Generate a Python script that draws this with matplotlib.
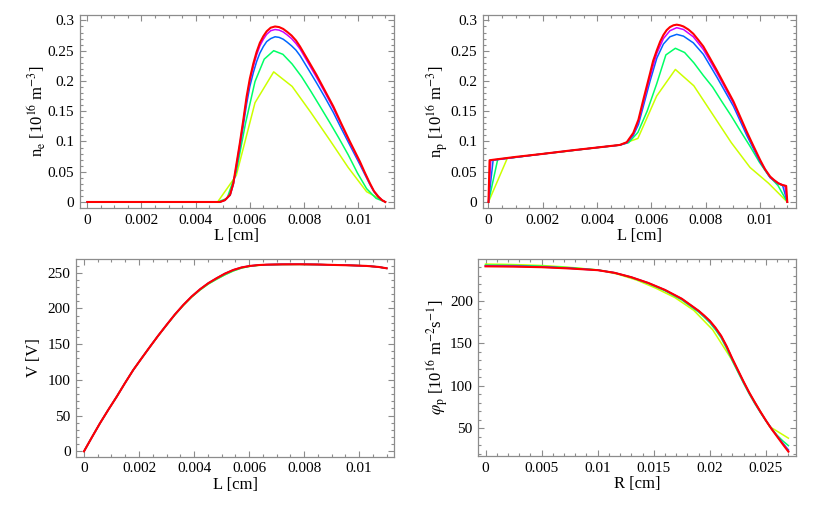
import matplotlib
matplotlib.use('Agg')
import matplotlib.pyplot as plt
from matplotlib.ticker import MultipleLocator, AutoMinorLocator, FuncFormatter

plt.rcParams['font.family'] = ['Liberation Serif', 'DejaVu Serif']
plt.rcParams['mathtext.fontset'] = 'stix'

# colours: coarse -> fine grid
colors = ['#ccff00', '#00ff66', '#0066ff', '#cc00ff', '#ff0000']
widths = [1.1, 1.1, 1.1, 1.1, 1.5]

# ---- n_e(L) ----
ne_x_yellow = [0, 0.00413, 0.00481, 0.0055, 0.00619, 0.00688, 0.00756, 0.00825, 0.00894, 0.00963, 0.01031, 0.011]
ne_yellow = [0, 0, 0, 0.044, 0.164, 0.215, 0.191, 0.148, 0.103, 0.057, 0.017, 0]
ne_x_green = [0, 0.00481, 0.00516, 0.0055, 0.00584, 0.00619, 0.00653, 0.00688, 0.00722, 0.00756, 0.00791,
              0.00825, 0.00859, 0.00894, 0.00928, 0.00963, 0.00997, 0.01031, 0.01066, 0.011]
ne_green = [0, 0, 0.006, 0.05, 0.13, 0.199, 0.236, 0.250, 0.244, 0.228, 0.207, 0.183, 0.158, 0.132,
            0.106, 0.078, 0.048, 0.022, 0.006, 0]
ne_x_fine = [0, 0.0049, 0.00508, 0.00527, 0.00539, 0.00551, 0.00563, 0.00576, 0.00588, 0.006, 0.00613,
             0.00625, 0.00637, 0.0065, 0.00662, 0.00677, 0.00693, 0.00708, 0.00723, 0.00738, 0.00754,
             0.0077, 0.00785, 0.00815, 0.00846, 0.00877, 0.00908, 0.00938, 0.00969, 0.01006, 0.01025,
             0.01043, 0.01058, 0.01074, 0.01088, 0.011]
ne_blue = [0, 0, 0.003, 0.011, 0.029, 0.059, 0.090, 0.127, 0.162, 0.191, 0.214, 0.232, 0.246, 0.257,
           0.265, 0.270, 0.273, 0.272, 0.269, 0.264, 0.258, 0.251, 0.242, 0.220, 0.197, 0.173, 0.148,
           0.121, 0.094, 0.062, 0.045, 0.029, 0.017, 0.008, 0.003, 0]
ne_magenta = [0, 0, 0.003, 0.012, 0.030, 0.062, 0.095, 0.133, 0.170, 0.200, 0.224, 0.243, 0.258, 0.269,
              0.277, 0.283, 0.285, 0.284, 0.281, 0.276, 0.270, 0.262, 0.253, 0.230, 0.206, 0.181, 0.155,
              0.127, 0.098, 0.065, 0.047, 0.030, 0.018, 0.009, 0.003, 0]
ne_red = [0, 0, 0.003, 0.012, 0.031, 0.064, 0.097, 0.136, 0.174, 0.204, 0.229, 0.248, 0.263, 0.274,
          0.282, 0.288, 0.290, 0.289, 0.286, 0.281, 0.275, 0.267, 0.257, 0.234, 0.210, 0.184, 0.158,
          0.129, 0.100, 0.067, 0.048, 0.031, 0.018, 0.009, 0.003, 0]

# ---- n_p(L) ----
np_x_yellow = [0, 0.00069, 0.00138, 0.00206, 0.00275, 0.00344, 0.00413, 0.00481, 0.0055, 0.00619,
               0.00688, 0.00756, 0.00825, 0.00894, 0.00963, 0.01031, 0.011]
np_yellow = [0, 0.072, 0.076, 0.080, 0.083, 0.087, 0.0905, 0.094, 0.105, 0.175, 0.219, 0.192, 0.145,
             0.098, 0.057, 0.031, 0]
np_x_green = [0, 0.00034, 0.002, 0.00413, 0.00481, 0.00516, 0.0055, 0.00584, 0.00619, 0.00653, 0.00688,
              0.00722, 0.00756, 0.00791, 0.00825, 0.00859, 0.00894, 0.00928, 0.00963, 0.00997, 0.01031,
              0.01066, 0.011]
np_green = [0, 0.0705, 0.0795, 0.0905, 0.094, 0.098, 0.115, 0.150, 0.195, 0.243, 0.254, 0.247, 0.230,
            0.209, 0.190, 0.166, 0.142, 0.117, 0.092, 0.066, 0.044, 0.027, 0]
np_x_blue = [0, 0.00017, 0.002, 0.0041, 0.00484, 0.00509, 0.00533, 0.00552, 0.0057, 0.00595, 0.0062,
             0.00644, 0.00668, 0.00693, 0.00718, 0.00754, 0.00791, 0.0084, 0.00902, 0.00951, 0.01,
             0.01037, 0.01067, 0.01083, 0.011]
np_blue = [0, 0.069, 0.0795, 0.0905, 0.094, 0.0975, 0.110, 0.128, 0.158, 0.200, 0.238, 0.261, 0.273,
           0.277, 0.274, 0.263, 0.244, 0.207, 0.158, 0.110, 0.066, 0.040, 0.030, 0.027, 0]
np_x_magenta = [0, 0.000086, 0.002, 0.0041, 0.00484, 0.00509, 0.00533, 0.00552, 0.0057, 0.00595, 0.0062,
                0.00644, 0.00668, 0.00693, 0.00718, 0.00754, 0.00791, 0.0084, 0.00902, 0.00951, 0.01,
                0.01037, 0.01067, 0.01091, 0.011]
np_magenta = [0, 0.069, 0.0795, 0.0905, 0.0942, 0.0982, 0.112, 0.133, 0.164, 0.207, 0.246, 0.270, 0.283,
              0.288, 0.285, 0.273, 0.252, 0.214, 0.163, 0.114, 0.068, 0.041, 0.031, 0.027, 0]
np_x_red = [0, 0.00004, 0.001, 0.002, 0.003, 0.0041, 0.00484, 0.00509, 0.00533, 0.00552, 0.0057, 0.00595,
            0.00606, 0.0062, 0.00632, 0.00644, 0.00656, 0.00668, 0.00681, 0.00693, 0.00705, 0.00718,
            0.00736, 0.00754, 0.00772, 0.00791, 0.00815, 0.0084, 0.00871, 0.00902, 0.00951, 0.00976,
            0.01, 0.01018, 0.01037, 0.01052, 0.01067, 0.01082, 0.01096, 0.011]
np_red = [0, 0.069, 0.0745, 0.0795, 0.085, 0.0905, 0.0943, 0.0988, 0.114, 0.136, 0.169, 0.213, 0.233,
          0.251, 0.265, 0.276, 0.284, 0.289, 0.292, 0.293, 0.292, 0.290, 0.285, 0.278, 0.268, 0.257,
          0.238, 0.218, 0.192, 0.166, 0.116, 0.092, 0.0695, 0.054, 0.042, 0.036, 0.031, 0.028, 0.0265, 0]

# ---- V(L) ----
v_x = [0, 0.00029, 0.00058, 0.00089, 0.00119, 0.00149, 0.00179, 0.0021, 0.0024, 0.0027, 0.003, 0.0033,
       0.00361, 0.00391, 0.00422, 0.00452, 0.00482, 0.00512, 0.00543, 0.00573, 0.00603, 0.00634, 0.00664,
       0.0072, 0.00785, 0.0085, 0.00906, 0.0097, 0.01027, 0.0107, 0.011]
v_coarse = [0, 19.8, 39.2, 58.5, 76.5, 95.5, 113.8, 130.5, 146.4, 161.8, 176.5, 190.8, 204.2, 215.8,
            225.8, 234.2, 240.8, 247.0, 252.5, 256.5, 258.9, 260.3, 261.0, 261.5, 261.6, 261.3, 260.8,
            260.2, 259.4, 258.0, 256.1]
v_fine = [0, 19.8, 39.2, 58.5, 76.5, 95.5, 113.8, 130.5, 146.4, 162.0, 176.8, 191.3, 204.8, 216.5,
          226.8, 235.3, 242.2, 248.6, 253.8, 257.3, 259.4, 260.6, 261.2, 261.6, 261.7, 261.4, 260.8,
          260.2, 259.4, 258.0, 256.1]

# ---- phi_p(R) ----
phi_x_yellow = [0, 0.00169, 0.00338, 0.00506, 0.00675, 0.00844, 0.01013, 0.01181, 0.0135, 0.01519,
                0.01688, 0.01856, 0.02025, 0.02194, 0.02363, 0.02531, 0.027]
phi_yellow = [243.5, 243.2, 242.6, 241.8, 240.4, 238.6, 236.3, 231.5, 224.5, 215.0, 204.0, 189.0,
              166.0, 131.0, 89.0, 52.0, 38.2]
phi_x = [0, 0.0025, 0.005, 0.0075, 0.01, 0.0115, 0.013, 0.0145, 0.016, 0.0175, 0.019, 0.0195, 0.02,
         0.0205, 0.021, 0.0215, 0.022, 0.0225, 0.023, 0.0235, 0.024, 0.0245, 0.025, 0.0255, 0.026,
         0.0265, 0.027]
phi_green = [242.3, 241.9, 241.0, 239.2, 236.6, 233.2, 227.6, 220.6, 212.0, 201.2, 186.8, 180.8, 174.2,
             166.0, 156.5, 143.8, 129.5, 116.2, 103.0, 90.5, 79.0, 68.5, 58.5, 49.5, 41.5, 35.0, 29.4]
phi_blue = [241.5, 241.1, 240.3, 238.6, 236.4, 233.2, 228.0, 221.2, 212.8, 202.3, 188.0, 182.2, 175.8,
            167.8, 158.4, 145.8, 131.5, 118.0, 104.5, 91.8, 80.2, 69.2, 58.8, 49.3, 40.6, 32.3, 24.4]
phi_magenta = [241.1, 240.8, 240.0, 238.4, 236.3, 233.2, 228.0, 221.3, 213.0, 202.5, 188.3, 182.5,
               176.2, 168.2, 158.8, 146.2, 131.8, 118.3, 104.8, 92.0, 80.5, 69.4, 59.0, 49.2, 40.4,
               31.6, 23.2]
phi_red = [240.8, 240.5, 239.8, 238.3, 236.3, 233.2, 228.0, 221.3, 213.0, 202.6, 188.4, 182.7, 176.5,
           168.5, 159.0, 146.5, 132.0, 118.5, 105.0, 92.2, 80.6, 69.5, 59.0, 49.0, 40.0, 31.0, 22.3]

fig = plt.figure(figsize=(8.22, 5.08), dpi=100)
ax1 = fig.add_axes([0.0973, 0.5906, 0.382, 0.3799])
ax2 = fig.add_axes([0.5872, 0.5906, 0.3808, 0.3799])
ax3 = fig.add_axes([0.0928, 0.101, 0.3869, 0.3886])
ax4 = fig.add_axes([0.5819, 0.1024, 0.3861, 0.3878])

fmt = FuncFormatter(lambda v, p: '%g' % round(v, 6))


def style(ax, xmaj, xminor, ymaj, yminor):
    for s in ax.spines.values():
        s.set_color('#8c8c8c')
        s.set_linewidth(0.9)
    ax.xaxis.set_major_locator(MultipleLocator(xmaj))
    ax.yaxis.set_major_locator(MultipleLocator(ymaj))
    ax.xaxis.set_minor_locator(AutoMinorLocator(xminor))
    ax.yaxis.set_minor_locator(AutoMinorLocator(yminor))
    ax.xaxis.set_major_formatter(fmt)
    ax.yaxis.set_major_formatter(fmt)
    ax.tick_params(which='both', direction='in', top=True, right=True, color='#8c8c8c',
                   labelsize=11, width=0.8)
    ax.tick_params(which='major', length=4, pad=4)
    ax.tick_params(which='minor', length=2)


# n_e
ax1.plot(ne_x_yellow, ne_yellow, color=colors[0], lw=widths[0])
ax1.plot(ne_x_green, ne_green, color=colors[1], lw=widths[1])
ax1.plot(ne_x_fine, ne_blue, color=colors[2], lw=widths[2])
ax1.plot(ne_x_fine, ne_magenta, color=colors[3], lw=widths[3])
ax1.plot(ne_x_fine, ne_red, color=colors[4], lw=widths[4])
ax1.set_xlim(-0.00027, 0.01132)
ax1.set_ylim(-0.0099, 0.309)
style(ax1, 0.002, 4, 0.05, 5)
ax1.set_xlabel('L [cm]', fontsize=12, labelpad=1)
ax1.set_ylabel(r'n$_{\rm e}$ [10$^{16}$ m$^{-3}$]', fontsize=12, labelpad=0)

# n_p
ax2.plot(np_x_yellow, np_yellow, color=colors[0], lw=widths[0])
ax2.plot(np_x_green, np_green, color=colors[1], lw=widths[1])
ax2.plot(np_x_blue, np_blue, color=colors[2], lw=widths[2])
ax2.plot(np_x_magenta, np_magenta, color=colors[3], lw=widths[3])
ax2.plot(np_x_red, np_red, color=colors[4], lw=widths[4])
ax2.set_xlim(-0.000214, 0.01131)
ax2.set_ylim(-0.0099, 0.309)
style(ax2, 0.002, 4, 0.05, 5)
ax2.set_xlabel('L [cm]', fontsize=12, labelpad=1)
ax2.set_ylabel(r'n$_{\rm p}$ [10$^{16}$ m$^{-3}$]', fontsize=12, labelpad=0)

# V
ax3.plot(v_x, v_coarse, color=colors[0], lw=widths[0])
ax3.plot(v_x, v_coarse, color=colors[1], lw=widths[1])
ax3.plot(v_x, v_fine, color=colors[2], lw=widths[2])
ax3.plot(v_x, v_fine, color=colors[3], lw=widths[3])
ax3.plot(v_x, v_fine, color=colors[4], lw=widths[4])
ax3.set_xlim(-0.00028, 0.01128)
ax3.set_ylim(-7.5, 268.7)
style(ax3, 0.002, 4, 50, 5)
ax3.set_xlabel('L [cm]', fontsize=12, labelpad=1)
ax3.set_ylabel('V [V]', fontsize=12, labelpad=4)

# phi_p
ax4.plot(phi_x_yellow, phi_yellow, color=colors[0], lw=widths[0])
ax4.plot(phi_x, phi_green, color=colors[1], lw=widths[1])
ax4.plot(phi_x, phi_blue, color=colors[2], lw=widths[2])
ax4.plot(phi_x, phi_magenta, color=colors[3], lw=widths[3])
ax4.plot(phi_x, phi_red, color=colors[4], lw=widths[4])
ax4.set_xlim(-0.00064, 0.02765)
ax4.set_ylim(17.2, 249.5)
style(ax4, 0.005, 5, 50, 5)
ax4.set_xlabel('R [cm]', fontsize=12, labelpad=1)
ax4.set_ylabel(r'$\varphi_{\rm p}$ [10$^{16}$ m$^{-2}$s$^{-1}$]', fontsize=12, labelpad=0)

fig.savefig('out.png', dpi=100)
